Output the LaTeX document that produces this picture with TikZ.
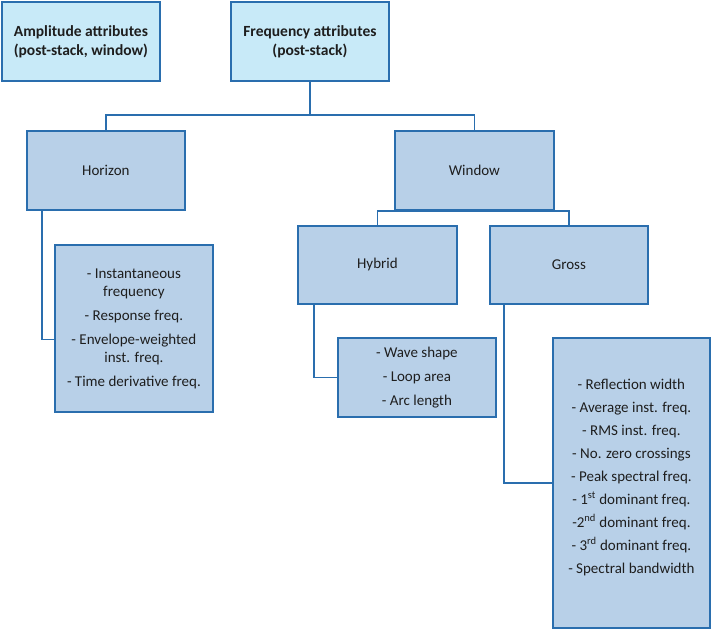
\documentclass[tikz,border=0pt]{standalone}
\usepackage{fontspec}
\setmainfont{Carlito}
\definecolor{lineblue}{HTML}{2A6EAE}
\definecolor{topfill}{HTML}{C8EAF8}
\definecolor{boxfill}{HTML}{B8D0E8}
\definecolor{txt}{HTML}{1E1E1E}
\tikzset{
  topbox/.style={draw=lineblue, line width=1.8pt, fill=topfill, anchor=north west, inner sep=0pt,
    align=center, text=txt, font=\fontsize{15.5}{19}\selectfont\bfseries},
  catbox/.style={draw=lineblue, line width=1.8pt, fill=boxfill, anchor=north west, inner sep=0pt,
    align=center, text=txt, font=\fontsize{15}{18}\selectfont},
  conn/.style={draw=lineblue, line width=1.6pt}
}
\begin{document}
\begin{tikzpicture}[x=1pt,y=1pt]
\useasboundingbox (0,0) rectangle (711,-629);
% top boxes
\node[topbox, minimum width=158pt, minimum height=79pt] (amp) at (1,-1) {Amplitude attributes\\(post-stack, window)};
\node[topbox, minimum width=158pt, minimum height=79pt] (freq) at (230,-1) {Frequency attributes\\(post-stack)};
% categories
\node[catbox, minimum width=158pt, minimum height=79pt] (horizon) at (26,-130) {Horizon};
\node[catbox, minimum width=159pt, minimum height=79pt] (window) at (394,-130) {Window};
\node[catbox, minimum width=159pt, minimum height=78pt] (hybrid) at (297,-225) {Hybrid};
\node[catbox, minimum width=158pt, minimum height=78pt] (gross) at (489,-225) {Gross};
% detail boxes
\node[catbox, minimum width=158pt, minimum height=167pt] (hdet) at (54,-244)
  {- Instantaneous\\frequency\\[6pt]- Response freq.\\[6pt]- Envelope-weighted\\inst. freq.\\[6pt]- Time derivative freq.};
\node[catbox, minimum width=158pt, minimum height=79pt] (hydet) at (337,-337)
  {- Wave shape\\[6pt]- Loop area\\[6pt]- Arc length};
\node[catbox, minimum width=157pt, minimum height=290pt] (gdet) at (552,-337)
  {- Reflection width\\[5pt]- Average inst. freq.\\[5pt]- RMS inst. freq.\\[5pt]- No. zero crossings\\[5pt]- Peak spectral freq.\\[5pt]- 1\textsuperscript{st} dominant freq.\\[5pt]-2\textsuperscript{nd} dominant freq.\\[5pt]- 3\textsuperscript{rd} dominant freq.\\[5pt]- Spectral bandwidth\\[-4pt]};
% connectors
\coordinate (j) at ([yshift=-33pt]freq.south);
\draw[conn] (freq.south) -- (j);
\draw[conn] (horizon.north) |- (j) -| (window.north);
\draw[conn] (hybrid.north) |- (window.south) -| (gross.north);
\draw[conn] ([xshift=16pt]horizon.south west) |- ([yshift=-11pt]hdet.west);
\draw[conn] ([xshift=17pt]hybrid.south west) |- (hydet.west);
\draw[conn] ([xshift=15pt]gross.south west) |- (gdet.west);
\end{tikzpicture}
\end{document}
